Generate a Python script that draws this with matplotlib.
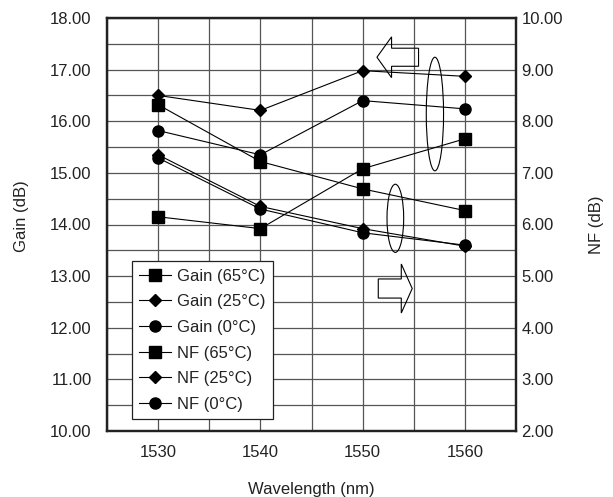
import matplotlib
matplotlib.use('Agg')
import matplotlib.pyplot as plt
from matplotlib.patches import Ellipse, FancyArrow
from matplotlib.ticker import MultipleLocator, FormatStrFormatter

plt.rcParams['font.family'] = ['Liberation Sans', 'DejaVu Sans']
plt.rcParams['font.size'] = 12

# data
wavelength = [1530, 1540, 1550, 1560]

gain_65 = [14.15, 13.92, 15.08, 15.66]
gain_25 = [16.50, 16.21, 16.98, 16.87]
gain_0 = [15.82, 15.35, 16.40, 16.24]

nf_65 = [8.32, 7.22, 6.69, 6.27]
nf_25 = [7.35, 6.35, 5.92, 5.58]
nf_0 = [7.29, 6.30, 5.84, 5.60]

txtcol = '#222222'
gridcol = '#555555'

fig = plt.figure(figsize=(6.13, 4.97), dpi=100)
ax = fig.add_axes([107/613, 66/497, 409/613, 413/497])
ax2 = ax.twinx()

ax.set_xlim(1525, 1565)
ax.set_ylim(10, 18)
ax2.set_ylim(2, 10)

ax.xaxis.set_major_locator(MultipleLocator(10))
ax.xaxis.set_minor_locator(MultipleLocator(5))
ax.yaxis.set_major_locator(MultipleLocator(1))
ax.yaxis.set_minor_locator(MultipleLocator(0.5))
ax2.yaxis.set_major_locator(MultipleLocator(1))
ax.yaxis.set_major_formatter(FormatStrFormatter('%.2f'))
ax2.yaxis.set_major_formatter(FormatStrFormatter('%.2f'))

ax.grid(True, which='both', color=gridcol, linewidth=0.9)
ax.set_axisbelow(True)

ax.tick_params(axis='both', which='both', length=0, colors=txtcol)
ax.tick_params(axis='y', pad=11)
ax.tick_params(axis='x', pad=10)
ax2.tick_params(axis='y', which='both', length=0, colors=txtcol, pad=4)

for a in (ax, ax2):
    for s in a.spines.values():
        s.set_linewidth(1.6)
        s.set_color('#222222')

lkw = dict(color='black', linewidth=0.8)
h1, = ax.plot(wavelength, gain_65, marker='s', markersize=9, label='Gain (65°C)', **lkw)
h2, = ax.plot(wavelength, gain_25, marker='D', markersize=6.5, label='Gain (25°C)', **lkw)
h3, = ax.plot(wavelength, gain_0, marker='o', markersize=8, label='Gain (0°C)', **lkw)
h4, = ax2.plot(wavelength, nf_65, marker='s', markersize=9, label='NF (65°C)', **lkw)
h5, = ax2.plot(wavelength, nf_25, marker='D', markersize=6.5, label='NF (25°C)', **lkw)
h6, = ax2.plot(wavelength, nf_0, marker='o', markersize=8, label='NF (0°C)', **lkw)

# ellipses and arrows telling which axis each group belongs to
ax.add_patch(Ellipse((1557.07, 16.14), 1.69, 2.2, fill=False, edgecolor='black', linewidth=0.8))
ax.add_patch(Ellipse((1553.2, 14.12), 1.63, 1.32, fill=False, edgecolor='black', linewidth=0.8))
ax.add_patch(FancyArrow(1555.47, 17.24, -4.07, 0, width=0.35, head_width=0.79,
                        head_length=1.43, length_includes_head=True,
                        fill=False, edgecolor='black', linewidth=0.8))
ax.add_patch(FancyArrow(1551.53, 12.76, 3.32, 0, width=0.37, head_width=0.95,
                        head_length=1.07, length_includes_head=True,
                        fill=False, edgecolor='black', linewidth=0.8))

leg = ax2.legend(handles=[h1, h2, h3, h4, h5, h6], loc='lower left',
                 bbox_to_anchor=(0.06, 0.028), borderaxespad=0,
                 fancybox=False, framealpha=1, edgecolor='#222222',
                 handlelength=1.9, handletextpad=0.4, labelspacing=0.64,
                 borderpad=0.45, fontsize=12)
leg.get_frame().set_linewidth(0.9)
for t in leg.get_texts():
    t.set_color(txtcol)

ax.set_xlabel('Wavelength (nm)', color=txtcol, labelpad=16)
ax.set_ylabel('Gain (dB)', color=txtcol)
ax2.set_ylabel('NF (dB)', color=txtcol)
ax.yaxis.set_label_coords(-0.19, 0.52, transform=ax.transAxes)
ax2.yaxis.set_label_coords(1.178, 0.5, transform=ax2.transAxes)

fig.savefig('out.png', dpi=100)
